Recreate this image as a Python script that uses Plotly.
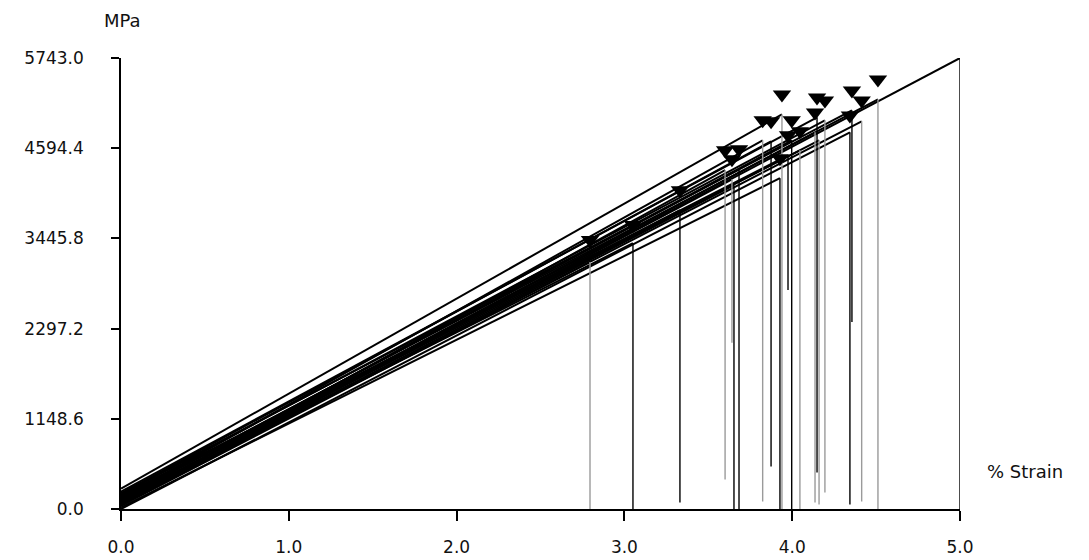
import plotly.graph_objects as go

# ---- data (strain in %, stress in MPa) ----
start_stress   = [100, 150, 60, 200, 0, 220, 180, 90, 260, 140, 200, 120,
                  170, 80, 130, 60, 20, 150, 110, 90, 40, 70, 100]
failure_strain = [5.000, 4.511, 4.414, 4.356, 4.344, 4.148, 4.195, 4.136,
                  3.939, 3.824, 3.874, 3.997, 3.975, 3.600, 3.683, 3.641,
                  3.927, 4.046, 3.331, 3.051, 2.795, 3.653, 4.160]
failure_stress = [5743, 5216, 4936, 5076, 4797, 4987, 4949, 4797,
                  5025, 4695, 4682, 4695, 4504, 4314, 4326, 4199,
                  4212, 4568, 3805, 3386, 3145, 4123, 4695]
drop_end       = [0, 0, 95, 2382, 57, 464, 210, 83,
                  0, 95, 540, 0, 2789, 375, 0, 2116,
                  0, 0, 83, 0, 0, 0, 57]
peak_marker    = [5965, 5470, 5203, 5330, 5012, 5241, 5203, 5050,
                  5279, 4949, 4936, 4949, 4758, 4568, 4580, 4453,
                  4466, 4809, 4060, 3615, 3424, None, None]
# style: shade of each vertical drop (True = grey)
drop_grey      = [False, True, True, False, False, False, True, True,
                  True, True, False, False, False, True, False, True,
                  False, True, False, False, True, False, True]

y_ticks = [0.0, 1148.6, 2297.2, 3445.8, 4594.4, 5743.0]
y_tick_text = ["0.0", "1148.6", "2297.2", "3445.8", "4594.4", "5743.0"]
x_ticks = [0.0, 1.0, 2.0, 3.0, 4.0, 5.0]

fig = go.Figure()

# rising portions
rx, ry = [], []
for s0, ef, sf in zip(start_stress, failure_strain, failure_stress):
    rx += [0, ef, None]
    ry += [s0, sf, None]
fig.add_trace(go.Scatter(x=rx, y=ry, mode="lines",
                         line=dict(color="black", width=2),
                         hoverinfo="skip", showlegend=False))

# vertical drops
for grey, col in [(True, "#9a9a9a"), (False, "black")]:
    dx, dy = [], []
    for ef, sf, se, g in zip(failure_strain, failure_stress, drop_end, drop_grey):
        if g == grey:
            dx += [ef, ef, None]
            dy += [sf, se, None]
    fig.add_trace(go.Scatter(x=dx, y=dy, mode="lines",
                             line=dict(color=col, width=1.4),
                             hoverinfo="skip", showlegend=False))

# failure markers
mx = [ef for ef, m in zip(failure_strain, peak_marker) if m is not None]
my = [m for m in peak_marker if m is not None]
fig.add_trace(go.Scatter(x=mx, y=my, mode="markers",
                         marker=dict(symbol="triangle-down", size=16, color="black",
                                     line=dict(width=0)),
                         cliponaxis=False, showlegend=False))

font = dict(family="DejaVu Sans, sans-serif", size=17, color="#111")
title_font = dict(family="DejaVu Sans, sans-serif", size=18, color="#111")

fig.update_layout(
    width=1089, height=560, autosize=False,
    margin=dict(l=121, r=129, t=58, b=50.5),
    plot_bgcolor="white", paper_bgcolor="white",
    font=font, showlegend=False,
    xaxis=dict(range=[0, 5], tickvals=x_ticks, tickformat=".1f",
               showline=True, linecolor="black", linewidth=1.5,
               ticks="outside", ticklen=10, tickwidth=1.5, tickcolor="black",
               ticklabelstandoff=12, showgrid=False, zeroline=False,
               tickfont=font, automargin=False),
    yaxis=dict(range=[0, 5743], tickvals=y_ticks, ticktext=y_tick_text,
               showline=True, linecolor="black", linewidth=1.5,
               ticks="outside", ticklen=8, tickwidth=1.5, tickcolor="black",
               ticklabelstandoff=24, showgrid=False, zeroline=False,
               tickfont=font, automargin=False),
    annotations=[
        dict(text="MPa", xref="paper", yref="paper", x=0.0012, y=1.084,
             xanchor="center", yanchor="middle", showarrow=False, font=title_font),
        dict(text="% Strain", xref="paper", yref="paper", x=1.0298, y=0.083,
             xanchor="left", yanchor="middle", showarrow=False, font=title_font),
    ],
)

fig.write_html("out.html")
